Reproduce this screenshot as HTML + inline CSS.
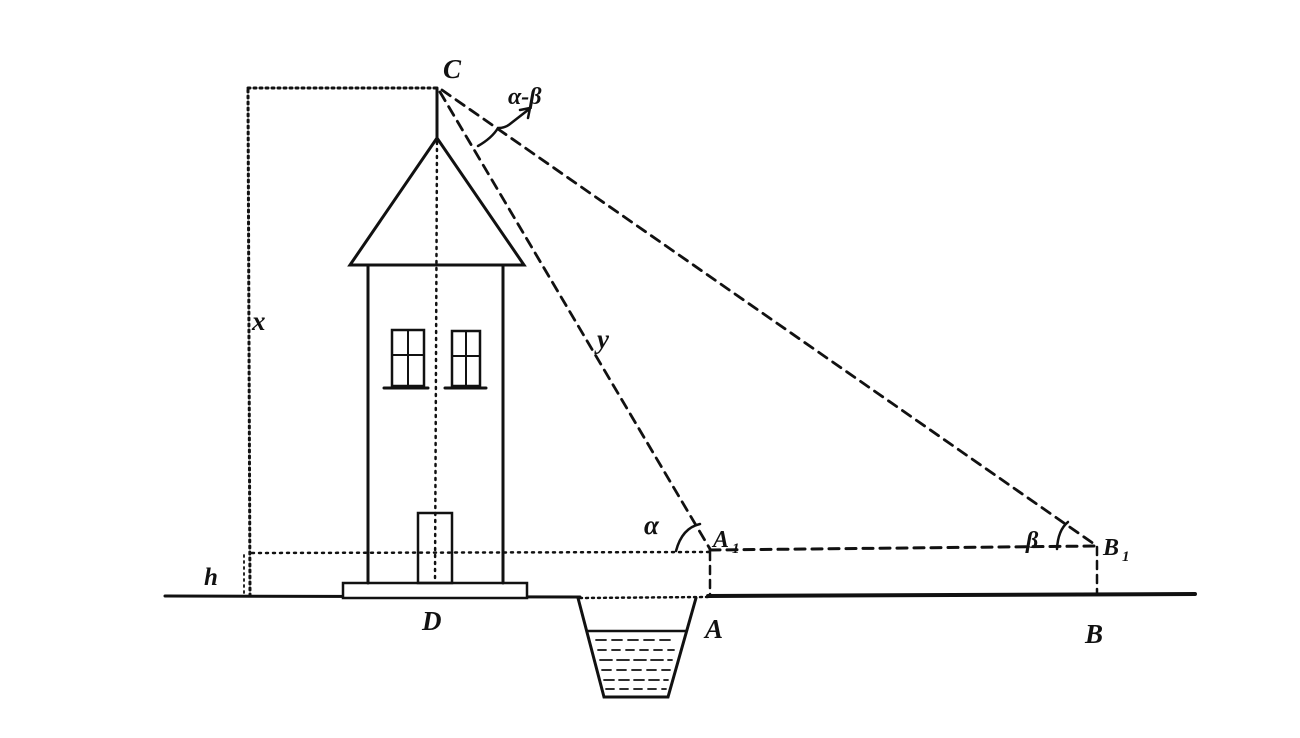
<!DOCTYPE html>
<html><head><style>
html,body{margin:0;padding:0;background:#fff;}
svg{display:block;}
text{font-family:"Liberation Serif",serif;font-style:italic;font-weight:bold;fill:#111;}
</style></head><body>
<svg width="1300" height="738" viewBox="0 0 1300 738" xmlns="http://www.w3.org/2000/svg">
<g stroke="#111" fill="none" stroke-linecap="round">
  <line x1="165" y1="596" x2="580" y2="597" stroke-width="3"/>
  <line x1="708" y1="596" x2="1195" y2="594" stroke-width="4"/>
  <line x1="580" y1="598" x2="708" y2="597" stroke-width="2.5" stroke-dasharray="2 4"/>
  <polyline points="578,598 604,697 668,697 696,598" stroke-width="3"/>
  <line x1="588" y1="631" x2="686" y2="631" stroke-width="2.5"/>
  <g stroke-width="1.8">
    <line x1="596" y1="640" x2="676" y2="640" stroke-dasharray="10 6"/>
    <line x1="598" y1="650" x2="674" y2="650" stroke-dasharray="8 6"/>
    <line x1="600" y1="660" x2="672" y2="660" stroke-dasharray="12 5"/>
    <line x1="602" y1="670" x2="670" y2="670" stroke-dasharray="9 6"/>
    <line x1="604" y1="680" x2="668" y2="680" stroke-dasharray="10 5"/>
    <line x1="606" y1="689" x2="666" y2="689" stroke-dasharray="8 6"/>
  </g>
  <rect x="343" y="583" width="184" height="15" stroke-width="2.5" fill="#fff"/>
  <line x1="368" y1="265" x2="368" y2="583" stroke-width="3"/>
  <line x1="503" y1="265" x2="503" y2="583" stroke-width="3"/>
  <polygon points="437,138 350,265 524,265" stroke-width="3"/>
  <line x1="437" y1="88" x2="437" y2="138" stroke-width="3"/>
  <rect x="392" y="330" width="32" height="56" stroke-width="2.5"/>
  <line x1="408" y1="330" x2="408" y2="386" stroke-width="2"/>
  <line x1="392" y1="355" x2="424" y2="355" stroke-width="2"/>
  <line x1="384" y1="388" x2="428" y2="388" stroke-width="3"/>
  <rect x="452" y="331" width="28" height="55" stroke-width="2.5"/>
  <line x1="466" y1="331" x2="466" y2="386" stroke-width="2"/>
  <line x1="452" y1="356" x2="480" y2="356" stroke-width="2"/>
  <line x1="445" y1="388" x2="486" y2="388" stroke-width="3"/>
  <rect x="418" y="513" width="34" height="70" stroke-width="2.5"/>
  <line x1="437" y1="142" x2="435" y2="582" stroke-width="2.5" stroke-dasharray="2 5"/>
  <line x1="248" y1="88" x2="437" y2="88" stroke-width="3" stroke-dasharray="2 4"/>
  <line x1="248" y1="90" x2="250" y2="595" stroke-width="3" stroke-dasharray="2 4"/>
  <line x1="252" y1="553" x2="710" y2="552" stroke-width="2.5" stroke-dasharray="2 5"/>
  <line x1="244" y1="555" x2="244" y2="595" stroke-width="1.8" stroke-dasharray="2 4"/>
  <line x1="710" y1="550" x2="1097" y2="546" stroke-width="3" stroke-dasharray="10 7"/>
  <line x1="710" y1="552" x2="710" y2="596" stroke-width="2.5" stroke-dasharray="8 6"/>
  <line x1="1097" y1="547" x2="1097" y2="594" stroke-width="2.5" stroke-dasharray="8 6"/>
  <line x1="440" y1="92" x2="710" y2="549" stroke-width="2.8" stroke-dasharray="10 7"/>
  <line x1="442" y1="90" x2="1097" y2="546" stroke-width="2.8" stroke-dasharray="10 7"/>
  <path d="M676,551 Q682,528 700,524" stroke-width="2.5"/>
  <path d="M1057,549 Q1058,530 1068,522" stroke-width="2.5"/>
  <path d="M478,146 Q492,138 498,128 Q505,128 510,124 L528,110" stroke-width="2.5"/>
  <path d="M520,110 L530,108 L528,118" stroke-width="2.5"/>
</g>
<text x="443" y="78" font-size="27">C</text>
<text x="508" y="104" font-size="24">α-β</text>
<text x="252" y="330" font-size="27">x</text>
<text x="597" y="348" font-size="27">y</text>
<text x="644" y="534" font-size="27">α</text>
<text x="713" y="547" font-size="24" font-style="normal">A</text>
<text x="732" y="553" font-size="15" font-style="normal">1</text>
<text x="1026" y="548" font-size="24">β</text>
<text x="1103" y="555" font-size="24">B</text>
<text x="1122" y="561" font-size="15">1</text>
<text x="705" y="638" font-size="27" font-style="normal">A</text>
<text x="1085" y="643" font-size="27">B</text>
<text x="422" y="630" font-size="27">D</text>
<text x="204" y="585" font-size="25">h</text>
</svg>
</body></html>
